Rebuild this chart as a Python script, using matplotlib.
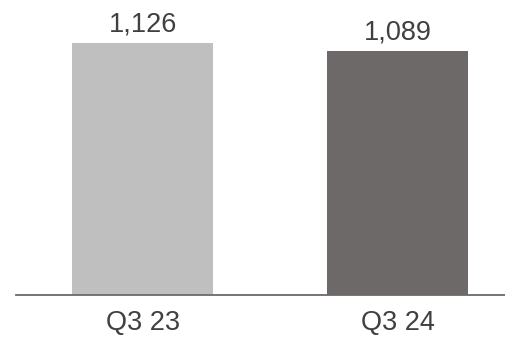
import matplotlib.pyplot as plt
import matplotlib.transforms as mtransforms

categories = ['Q3 23', 'Q3 24']
values = [1126, 1089]
value_labels = ['1,126', '1,089']
bar_colors = ['#BFBFBF', '#6D6968']

plt.rcParams['font.family'] = ['Liberation Sans', 'DejaVu Sans']

fig = plt.figure(figsize=(5.05, 3.37), dpi=100)
ax = fig.add_axes([16 / 505, 42 / 337, 489 / 505, 295 / 337])

x = list(range(len(categories)))
bars = ax.bar(x, values, width=0.553, color=bar_colors, zorder=1)

ax.set_xlim(-0.498, 1.42)
ax.set_ylim(0, 1318)

# Value labels above bars
for xi, v, lab in zip(x, values, value_labels):
    ax.annotate(lab, (xi, v), xytext=(0, 4), textcoords='offset points',
                ha='center', va='bottom', fontsize=19.5, color='#404040')

# Category labels below baseline
trans = mtransforms.blended_transform_factory(ax.transData, ax.transAxes)
for xi, c in zip(x, categories):
    ax.annotate(c, (xi, 0), xycoords=trans, xytext=(0, -20.5), textcoords='offset points',
                ha='center', va='center', fontsize=19.5, color='#404040')

for s in ['top', 'right', 'left']:
    ax.spines[s].set_visible(False)
ax.spines['bottom'].set_color('#6D6968')
ax.spines['bottom'].set_linewidth(1.3)
ax.spines['bottom'].set_zorder(2)
ax.set_xticks([])
ax.set_yticks([])

fig.savefig('out.png', dpi=100)
